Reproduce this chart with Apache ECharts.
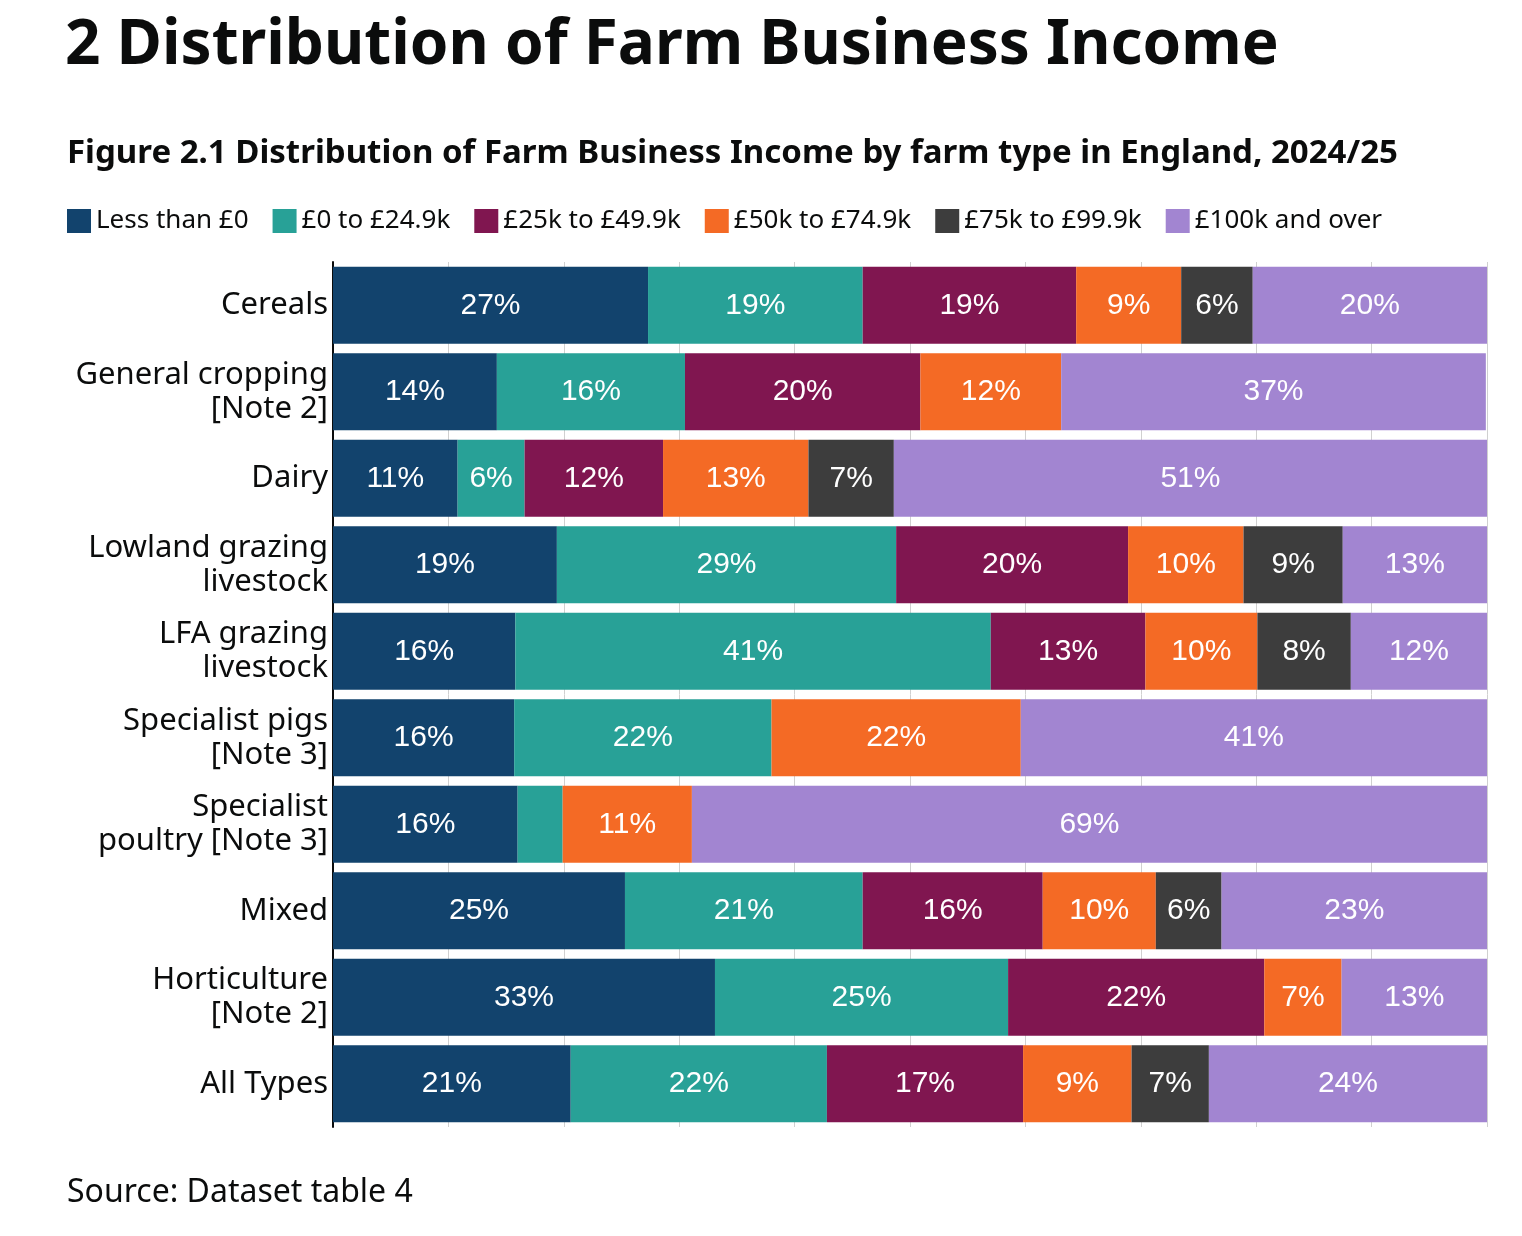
<!DOCTYPE html>
<html><head><meta charset="utf-8">
<script src="https://cdn.jsdelivr.net/npm/echarts@6/dist/echarts.min.js"></script>
<style>html,body{margin:0;background:#fff}#c{width:1522px;height:1236px}</style>
</head><body><div id="c"></div>
<script>
var categories = ['Cereals', 'General cropping\n[Note 2]', 'Dairy', 'Lowland grazing\nlivestock', 'LFA grazing\nlivestock',
  'Specialist pigs\n[Note 3]', 'Specialist\npoultry [Note 3]', 'Mixed', 'Horticulture\n[Note 2]', 'All Types'];
var seriesNames = ['Less than £0', '£0 to £24.9k', '£25k to £49.9k', '£50k to £74.9k', '£75k to £99.9k', '£100k and over'];
var colors = ['#12436D', '#28A197', '#801650', '#F46A25', '#3D3D3D', '#A285D1'];
var lessThan0 = [27.3, 14.2, 10.8, 19.4, 15.8, 15.7, 16.0, 25.3, 33.1, 20.6];
var to25k = [18.6, 16.3, 5.8, 29.4, 41.2, 22.3, 3.9, 20.6, 25.4, 22.2];
var to50k = [18.5, 20.4, 12.0, 20.1, 13.4, null, null, 15.6, 22.2, 17.0];
var to75k = [9.1, 12.2, 12.6, 10.0, 9.7, 21.6, 11.2, 9.8, 6.7, 9.4];
var to100k = [6.2, null, 7.4, 8.6, 8.1, null, null, 5.7, null, 6.7];
var over100k = [20.3, 36.8, 51.4, 12.6, 11.8, 40.5, 68.9, 23.0, 12.7, 24.1];
var values = [lessThan0, to25k, to50k, to75k, to100k, over100k];

var chart = echarts.init(document.getElementById('c'));
var series = seriesNames.map(function (n, i) {
  return {
    name: n, type: 'bar', stack: 'all', data: values[i], barCategoryGap: '11%',
    itemStyle: { color: colors[i] },
    label: {
      show: true, position: 'inside', color: '#fff', fontSize: 30, fontFamily: 'Liberation Sans',
      formatter: function (p) { return p.value == null || p.value < 5 ? '' : Math.round(p.value) + '%'; }
    }
  };
});
chart.setOption({
  animation: false,
  textStyle: { fontFamily: 'Noto Sans' },
  title: [
    { text: '2 Distribution of Farm Business Income', left: 60, top: 10, textStyle: { fontSize: 62, fontWeight: 'bold', color: '#0b0c0c' } },
    { text: 'Figure 2.1 Distribution of Farm Business Income by farm type in England, 2024/25', left: 62, top: 132, textStyle: { fontSize: 33, fontWeight: 'bold', color: '#0b0c0c' } },
    { text: 'Source: Dataset table 4', left: 62, top: 1172, textStyle: { fontSize: 32, fontWeight: 'normal', color: '#0b0c0c' } }
  ],
  legend: {
    left: 62, top: 203, itemWidth: 24, itemHeight: 24, itemGap: 24, icon: 'rect',
    textStyle: { fontSize: 26, color: '#0b0c0c' }, data: seriesNames
  },
  grid: { left: 333, right: 35, top: 262, bottom: 109 },
  xAxis: {
    type: 'value', min: 0, max: 100, interval: 10,
    axisLabel: { show: false }, axisLine: { show: false }, axisTick: { show: false },
    splitLine: { lineStyle: { color: '#d0d0d0' } }
  },
  yAxis: {
    type: 'category', inverse: true, data: categories,
    axisLine: { lineStyle: { color: '#0b0c0c', width: 2 } }, axisTick: { show: false },
    axisLabel: { fontSize: 31, color: '#0b0c0c', lineHeight: 34, align: 'right', margin: 5 }
  },
  series: series
});
</script></body></html>
